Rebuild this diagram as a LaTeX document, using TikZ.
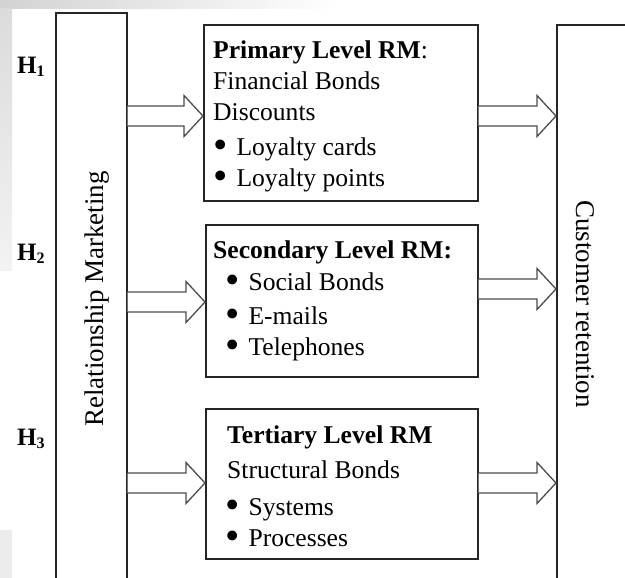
\documentclass[tikz,border=0pt]{standalone}
\usepackage{fontspec}
\usepackage{graphicx}
\setmainfont{Liberation Serif}
\usetikzlibrary{calc}
\newcommand\blockarrow[2]{%
  \draw[blk] ($(#1)+(0,-10)$) -- ($(#2)+(-19,-10)$) -- ($(#2)+(-19,-20.5)$) -- (#2)
    -- ($(#2)+(-19,20.5)$) -- ($(#2)+(-19,10)$) -- ($(#1)+(0,10)$);}
\newcommand\bl{\smash{\raisebox{-2.6pt}{\scalebox{1.6}{\textbullet}}}\hspace{9pt}}
\begin{document}
\begin{tikzpicture}[x=1pt,y=-1pt,
  frame/.style={draw=black!85, line width=1.6pt, anchor=north west, inner sep=0pt},
  lvltext/.style={anchor=north west, align=left, inner sep=0pt, font=\fontsize{25.6}{31}\selectfont},
  hlabel/.style={anchor=base west, inner sep=0pt, font=\fontsize{25}{26}\selectfont\bfseries},
  sidetext/.style={anchor=base, inner sep=0pt, font=\fontsize{27}{30}\selectfont},
  blk/.style={draw=black!70, line width=1.3pt, fill=white, line join=miter},
]
\useasboundingbox (0,0) rectangle (625,578);
\clip (0,0) rectangle (625,578);
% faint scan shading
\shade[left color=gray!35, right color=white] (0,0) rectangle (340,9);
\shade[top color=gray!28, bottom color=gray!10] (0,9) rectangle (12,270);
\fill[gray!15] (0,530) rectangle (12,578);

% side bars
\node[frame, minimum width=71pt, minimum height=600pt] (L) at (55,12) {};
\node[frame, minimum width=100pt, minimum height=600pt] (R) at (556,24) {};
\node[sidetext, rotate=90] (rm) at (103,299) {Relationship Marketing};
\node[sidetext, rotate=-90] (cr) at (576,304) {Customer retention};

% level boxes
\node[frame, minimum width=274pt, minimum height=176pt] (b1) at (203,24) {};
\node[frame, minimum width=272pt, minimum height=152pt] (b2) at (205,224) {};
\node[frame, minimum width=272pt, minimum height=150pt] (b3) at (205,408) {};

\node[lvltext] (t1) at (213,41) {\textbf{Primary Level RM}:\\
  Financial Bonds\\ Discounts\\[4pt]
  \bl Loyalty cards\\ \bl Loyalty points};
\node[lvltext] (t2) at (213,241) {\textbf{Secondary Level RM:}\\[1pt]
  \hspace*{12pt}\bl Social Bonds\\[3pt]
  \hspace*{12pt}\bl E-mails\\
  \hspace*{12pt}\bl Telephones};
\node[lvltext] (t3) at (225,426) {\hspace*{2pt}\textbf{Tertiary Level RM}\\[4pt]
  \hspace*{2pt}Structural Bonds\\[6pt]
  \bl Systems\\
  \bl Processes};

% hypothesis labels
\node[hlabel] (h1) at (17,74) {H\raisebox{-3pt}{\fontsize{16}{16}\selectfont 1}};
\node[hlabel] (h2) at (17,260) {H\raisebox{-3pt}{\fontsize{16}{16}\selectfont 2}};
\node[hlabel] (h3) at (17,445) {H\raisebox{-3pt}{\fontsize{16}{16}\selectfont 3}};

% arrow rows
\coordinate (y1) at (0,116);
\coordinate (y2) at (0,302);
\coordinate (y3) at (0,483);
\coordinate (y4) at (0,116);
\coordinate (y5) at (0,289);
\coordinate (y6) at (0,483);
\blockarrow{L.east |- y1}{b1.west |- y1}
\blockarrow{L.east |- y2}{b2.west |- y2}
\blockarrow{L.east |- y3}{b3.west |- y3}
\blockarrow{b1.east |- y4}{R.west |- y4}
\blockarrow{b2.east |- y5}{R.west |- y5}
\blockarrow{b3.east |- y6}{R.west |- y6}
\end{tikzpicture}
\end{document}
